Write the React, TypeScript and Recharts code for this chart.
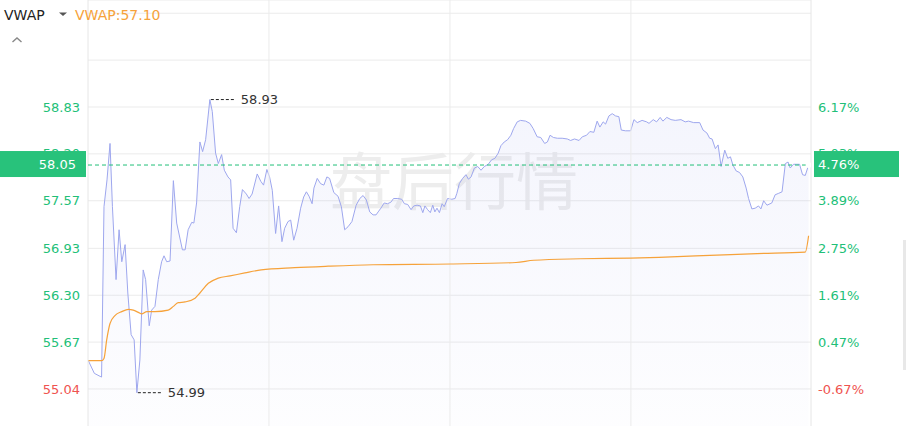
import React from 'react';
import {
  ComposedChart,
  Line,
  Area,
  XAxis,
  YAxis,
  CartesianGrid,
  ReferenceLine,
  ReferenceDot,
} from 'recharts';

// ---- data ----
const priceTimes = [0,2.1,4.0,4.5,5.3,6.3,7.3,8.1,9.3,10.3,11.2,12.3,13.2,14.3,15.3,16.2,17.2,18.3,19.1,20.3,21.1,22.2,23.3,24.4,25.2,26.1,27.2,28.3,29.4,31.3,32.2,33.2,34.4,35.1,36.0,37.1,38.0,39.0,40.4,41.2,42.3,43.2,44.3,45.2,46.4,47.3,48.1,49.2,50.3,51.2,52.5,53.4,54.4,56.1,57.3,58.2,59.3,60.2,61.1,62.2,63.2,64.3,65.2,66.3,67.2,68.2,69.3,70.5,71.5,72.4,73.3,74.3,74.9,76.0,77.1,78.2,79.2,80.1,81.5,82.9,84.0,85.1,86.2,87.5,88.9,90.1,91.2,92.3,93.4,94.5,95.5,96.2,97.1,98.2,99.3,100.4,101.3,102.7,104.0,104.9,106.0,107.1,108.0,109.1,110.2,111.0,111.7,112.6,113.5,114.3,115.0,115.7,116.5,117.4,118.1,119.2,120.6,121.7,122.3,123.1,124.2,125.3,126.1,127.0,128.1,129.2,130.3,131.4,132.7,133.8,134.9,136.0,136.9,138.0,139.1,140.2,141.1,142.3,143.4,145.1,146.5,147.6,148.9,150.1,151.4,152.3,153.2,154.3,155.6,157.2,158.9,160.0,161.3,162.8,163.9,165.3,166.4,167.7,168.8,169.7,170.8,171.6,172.7,173.8,174.9,176.0,176.8,178.2,179.9,181.0,182.1,183.7,185.2,186.0,187.4,188.5,189.7,190.6,191.9,193.3,194.7,196.6,198.0,199.1,200.8,202.8,203.9,205.2,206.1,206.9,208.0,208.9,209.9,211.1,212.1,213.0,213.8,214.9,216.0,217.1,218.2,219.0,220.1,221.2,222.3,223.1,224.0,225.1,226.7,227.8,229.0,230.1,231.2,232.1,232.8,233.9,235.0,235.9,236.9,237.8,238.9];

const prices = [55.43,55.25,55.21,55.20,57.49,57.85,58.34,57.49,56.51,57.18,56.75,56.98,56.33,55.77,55.70,54.99,55.43,56.64,56.51,55.89,56.10,56.15,56.51,56.75,56.83,56.75,56.76,57.84,57.27,56.91,56.91,57.18,57.28,57.27,57.54,58.36,58.23,58.39,58.93,58.77,58.21,58.07,58.19,57.98,57.89,57.85,57.20,57.14,57.49,57.72,57.66,57.60,57.66,57.93,57.83,57.78,57.99,57.89,57.71,57.13,57.50,57.02,57.20,57.29,57.31,57.04,57.20,57.47,57.62,57.69,57.63,57.53,57.74,57.87,57.80,57.78,57.89,57.87,57.68,57.63,57.49,57.18,57.22,57.29,57.51,57.60,57.64,57.58,57.42,57.38,57.38,57.42,57.47,57.54,57.53,57.55,57.60,57.60,57.59,57.53,57.52,57.45,57.50,57.51,57.50,57.41,57.50,57.45,57.41,57.51,57.42,57.47,57.41,57.53,57.49,57.60,57.59,57.60,57.67,57.80,57.87,57.92,57.86,57.89,58.01,58.03,57.98,58.03,58.06,58.12,58.14,58.21,58.31,58.36,58.39,58.45,58.54,58.63,58.65,58.64,58.61,58.54,58.43,58.42,58.34,58.36,58.45,58.42,58.41,58.41,58.40,58.38,58.40,58.38,58.43,58.45,58.50,58.49,58.64,58.56,58.63,58.60,58.71,58.74,58.71,58.70,58.52,58.51,58.51,58.66,58.62,58.65,58.63,58.61,58.66,58.63,58.69,58.64,58.69,58.66,58.65,58.66,58.63,58.64,58.62,58.62,58.52,58.48,58.41,58.40,58.27,58.32,58.03,58.25,58.14,58.16,58.05,57.97,57.95,57.89,57.74,57.60,57.46,57.47,57.50,57.46,57.57,57.51,57.54,57.65,57.67,57.69,58.07,58.09,58.01,58.06,58.06,58.06,57.92,57.91,58.05];

const vwapTimes = [0,4.5,5.3,6.2,7.3,9.0,11.2,13.4,15.0,16.7,17.8,19.5,22.2,26.6,28.3,29.9,32.2,35.5,37.1,39.9,43.2,47.1,52.0,57.4,68.5,79.6,94.5,120.3,141.9,147.8,163.3,179.9,189.3,208.5,221.8,237.8,238.9];
const vwapValues = [55.42,55.42,55.45,55.70,55.92,56.03,56.08,56.11,56.10,56.07,56.05,56.08,56.08,56.10,56.15,56.20,56.21,56.26,56.33,56.46,56.53,56.56,56.60,56.64,56.67,56.69,56.71,56.72,56.74,56.77,56.79,56.80,56.81,56.84,56.86,56.88,57.10];

const priceTickLabels = ['55.04', '55.67', '56.30', '56.93', '57.57', '58.20', '58.83'];
const pctTickLabels = ['-0.67%', '0.47%', '1.61%', '2.75%', '3.89%', '5.03%', '6.17%'];
const extraGridPrices = [59.46, 60.09];
const timeGridTicks = [60, 120, 180];
const prevClose = 55.41;
const lastPrice = 58.05;
const lastPriceLabel = '58.05';
const lastPctLabel = '4.76%';
const vwapName = 'VWAP';
const vwapLegend = 'VWAP:57.10';
const watermark = '盘后行情';
const highT = 40.4;
const highP = 58.93;
const lowT = 16.2;
const lowP = 54.99;

const priceDomain = [54.408, 60.268];
const timeDomain = [0, 239.7];

// ---- derived ----
const n = Math.min(priceTimes.length, prices.length);
const priceData = priceTimes.slice(0, n).map((t, i) => ({ t, price: prices[i] }));
const m = Math.min(vwapTimes.length, vwapValues.length);
const vwapData = vwapTimes.slice(0, m).map((t, i) => ({ t, vwap: vwapValues[i] }));
const priceTickValues = priceTickLabels.map(Number);
const gridTicks = [...priceTickValues, ...extraGridPrices];

const GREEN = '#22bf78';
const BADGE = '#28c27b';
const RED = '#ef5350';
const FONT = '"DejaVu Sans", sans-serif';

const AxisTick = (props: any) => {
  const { x, y, payload, textAnchor, side } = props;
  const v = payload ? payload.value : null;
  const idx = priceTickValues.indexOf(v);
  if (idx < 0) return <g />;
  const label = side === 'left' ? priceTickLabels[idx] : pctTickLabels[idx];
  const color = v < prevClose ? RED : GREEN;
  return (
    <text x={x} y={y} dy={4.6} textAnchor={textAnchor} fill={color} fontSize={13} fontFamily={FONT}>
      {label}
    </text>
  );
};

const Badge = (props: any) => {
  const vb = props.viewBox || {};
  const x = vb.x ?? 88;
  const y = vb.y ?? 0;
  const w = vb.width ?? 723;
  return (
    <g>
      <rect x={x - 88} y={y - 14} width={86} height={26} fill={BADGE} />
      <text x={x - 12} y={y - 1} dy={4.6} textAnchor="end" fill="#fff" fontSize={13} fontFamily={FONT}>
        {lastPriceLabel}
      </text>
      <rect x={x + w + 3} y={y - 14} width={85} height={26} fill={BADGE} />
      <text x={x + w + 7} y={y - 1} dy={4.6} textAnchor="start" fill="#fff" fontSize={13} fontFamily={FONT}>
        {lastPctLabel}
      </text>
    </g>
  );
};

const Extreme = (props: any) => {
  const { cx, cy, text } = props;
  if (cx == null || cy == null) return <g />;
  return (
    <g>
      <line x1={cx + 1} y1={cy} x2={cx + 26} y2={cy} stroke="#222" strokeWidth={1} strokeDasharray="3 2" />
      <text x={cx + 31} y={cy} dy={4.6} fill="#333" fontSize={13} fontFamily={FONT}>
        {text}
      </text>
    </g>
  );
};

const CHART_W = 906;
const CHART_H = 436;
const MARGIN = { top: 0, right: 0, bottom: 0, left: 0 };

export default function App() {
  return (
    <div
      style={{
        position: 'absolute',
        left: 0,
        top: 0,
        width: 906,
        height: 426,
        overflow: 'hidden',
        background: '#fff',
        fontFamily: FONT,
      }}
    >
      <div
        style={{
          position: 'absolute',
          left: 330,
          top: 147,
          fontSize: 62,
          lineHeight: '62px',
          color: '#ededed',
          fontFamily: '"Noto Sans CJK SC", sans-serif',
          whiteSpace: 'nowrap',
        }}
      >
        {watermark}
      </div>
      <div style={{ position: 'absolute', left: 0, top: 0 }}>
        <ComposedChart width={CHART_W} height={CHART_H} margin={MARGIN}>
          <defs>
            <linearGradient id="priceFill" x1="0" y1="0" x2="0" y2="1">
              <stop offset="0%" stopColor="#7b86e6" stopOpacity={0.14} />
              <stop offset="100%" stopColor="#7b86e6" stopOpacity={0.02} />
            </linearGradient>
          </defs>
          <CartesianGrid vertical={false} stroke="#ebebeb" />
          <XAxis type="number" dataKey="t" domain={timeDomain} allowDataOverflow hide />
          <YAxis
            yAxisId={0}
            orientation="left"
            width={88}
            type="number"
            domain={priceDomain}
            allowDataOverflow
            ticks={gridTicks}
            interval={0}
            axisLine={{ stroke: '#e6e6e6' }}
            tickLine={false}
            tickSize={0}
            tickMargin={8}
            tick={(p: any) => <AxisTick {...p} side="left" />}
          />
          <YAxis
            yAxisId="right"
            orientation="right"
            width={95}
            type="number"
            domain={priceDomain}
            allowDataOverflow
            ticks={gridTicks}
            interval={0}
            axisLine={{ stroke: '#e6e6e6' }}
            tickLine={false}
            tickSize={0}
            tickMargin={7}
            tick={(p: any) => <AxisTick {...p} side="right" />}
          />
          {timeGridTicks.map((t) => (
            <ReferenceLine key={t} x={t} stroke="#ebebeb" />
          ))}
          <Area
            data={priceData}
            dataKey="price"
            type="linear"
            stroke="#9ea7ee"
            strokeWidth={1}
            fill="url(#priceFill)"
            dot={false}
            activeDot={false}
            isAnimationActive={false}
          />
          <Line
            data={vwapData}
            dataKey="vwap"
            type="monotone"
            stroke="#f6a23a"
            strokeWidth={1.2}
            dot={false}
            activeDot={false}
            isAnimationActive={false}
          />
          <ReferenceDot x={highT} y={highP} r={0} shape={(p: any) => <Extreme {...p} text={highP.toFixed(2)} />} />
          <ReferenceDot x={lowT} y={lowP} r={0} shape={(p: any) => <Extreme {...p} text={lowP.toFixed(2)} />} />
        </ComposedChart>
      </div>
      {/* overlay chart with the same scales: last-price line and badges drawn above the axis labels */}
      <div style={{ position: 'absolute', left: 0, top: 0, pointerEvents: 'none' }}>
        <ComposedChart width={CHART_W} height={CHART_H} margin={MARGIN}>
          <XAxis type="number" dataKey="t" domain={timeDomain} allowDataOverflow hide />
          <YAxis
            yAxisId={0}
            orientation="left"
            width={88}
            type="number"
            domain={priceDomain}
            allowDataOverflow
            ticks={gridTicks}
            axisLine={false}
            tickLine={false}
            tick={false}
          />
          <YAxis
            yAxisId="right"
            orientation="right"
            width={95}
            type="number"
            domain={priceDomain}
            allowDataOverflow
            ticks={gridTicks}
            axisLine={false}
            tickLine={false}
            tick={false}
          />
          <Line
            data={priceData.slice(-1)}
            dataKey="price"
            stroke="none"
            dot={false}
            activeDot={false}
            isAnimationActive={false}
          />
          <ReferenceLine
            y={lastPrice}
            stroke={GREEN}
            strokeDasharray="4 3"
            label={(p: any) => <Badge {...p} />}
          />
        </ComposedChart>
      </div>
      <div style={{ position: 'absolute', left: 4, top: 5, fontSize: 14, lineHeight: '20px', color: '#222', whiteSpace: 'nowrap' }}>
        {vwapName}
      </div>
      <svg style={{ position: 'absolute', left: 0, top: 0 }} width={80} height={50}>
        <polygon points="59,12.5 67,12.5 63,16" fill="#555" />
        <polyline points="12.5,42 17,38 21.5,42" fill="none" stroke="#888" strokeWidth={1.4} />
      </svg>
      <div style={{ position: 'absolute', left: 75, top: 5, fontSize: 14, lineHeight: '20px', color: '#f6a23a', whiteSpace: 'nowrap' }}>
        {vwapLegend}
      </div>
      <div style={{ position: 'absolute', left: 903, top: 240, width: 3, height: 130, background: '#e8e8e8' }} />
    </div>
  );
}
